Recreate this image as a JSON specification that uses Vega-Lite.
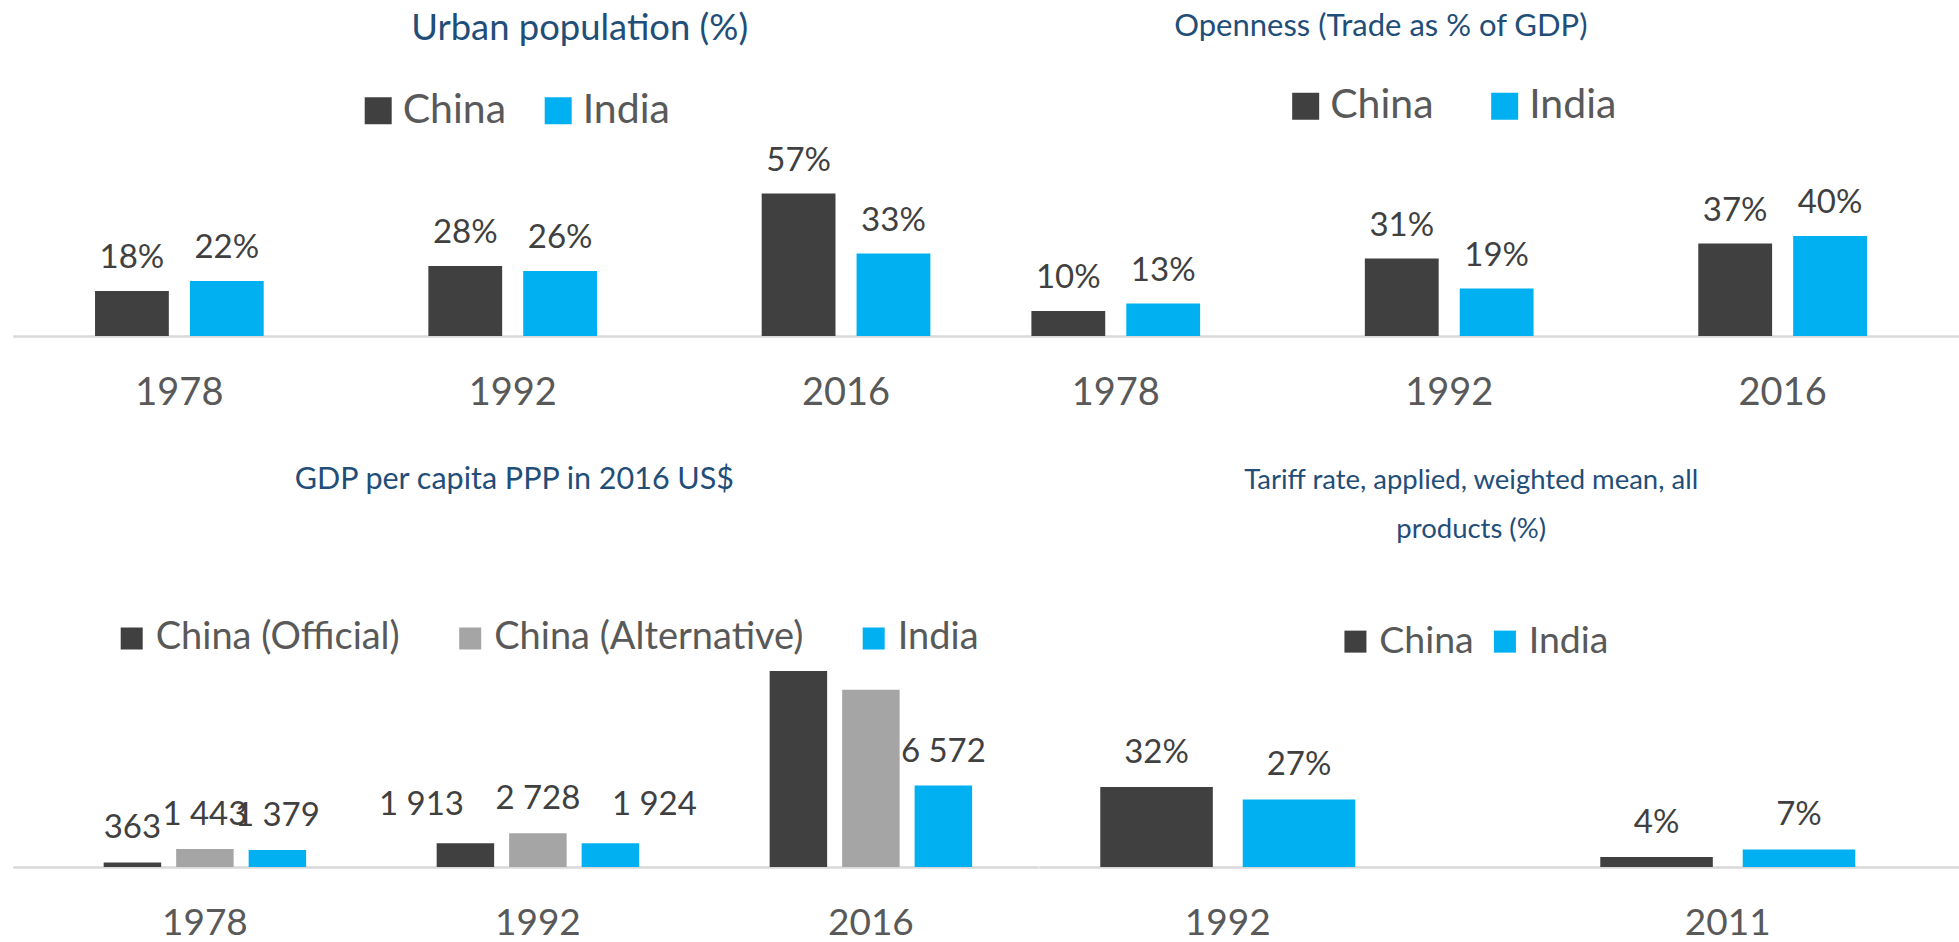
{
  "$schema": "https://vega.github.io/schema/vega-lite/v6.json",
  "background": "white",
  "padding": {"left": 12.7, "top": 10, "right": 0, "bottom": 0},
  "config": {
    "view": {"stroke": null},
    "font": "Lato",
    "locale": {"number": {"decimal": ".", "thousands": " ", "grouping": [3], "currency": ["", "$"]}},
    "title": {"fontWeight": "normal", "color": "#1F4E79", "fontSize": 35, "anchor": "middle", "frame": "group", "font": "Lato"},
    "axis": {"domainColor": "#D9D9D9", "domainWidth": 2.5, "ticks": false, "tickSize": 0, "grid": false, "labelColor": "#595959", "labelBaseline": "middle", "labelPadding": 57, "labelAngle": 0, "title": null, "labelFont": "Lato"},
    "legend": {"orient": "none", "direction": "horizontal", "title": null, "symbolType": "square", "symbolStrokeWidth": 0, "labelColor": "#595959", "padding": 0, "labelLimit": 0, "labelFont": "Lato"},
    "text": {"font": "Lato"}
  },
  "datasets": {
    "urban": [
      {"year": "1978", "country": "China", "value": 0.18},
      {"year": "1978", "country": "India", "value": 0.22},
      {"year": "1992", "country": "China", "value": 0.28},
      {"year": "1992", "country": "India", "value": 0.26},
      {"year": "2016", "country": "China", "value": 0.57},
      {"year": "2016", "country": "India", "value": 0.33}
    ],
    "openness": [
      {"year": "1978", "country": "China", "value": 0.10},
      {"year": "1978", "country": "India", "value": 0.13},
      {"year": "1992", "country": "China", "value": 0.31},
      {"year": "1992", "country": "India", "value": 0.19},
      {"year": "2016", "country": "China", "value": 0.37},
      {"year": "2016", "country": "India", "value": 0.40}
    ],
    "gdp": [
      {"year": "1978", "series": "China (Official)", "value": 363},
      {"year": "1978", "series": "China (Alternative)", "value": 1443},
      {"year": "1978", "series": "India", "value": 1379},
      {"year": "1992", "series": "China (Official)", "value": 1913},
      {"year": "1992", "series": "China (Alternative)", "value": 2728},
      {"year": "1992", "series": "India", "value": 1924},
      {"year": "2016", "series": "China (Official)", "value": 15800},
      {"year": "2016", "series": "China (Alternative)", "value": 14300},
      {"year": "2016", "series": "India", "value": 6572}
    ],
    "tariff": [
      {"year": "1992", "country": "China", "value": 0.32},
      {"year": "1992", "country": "India", "value": 0.27},
      {"year": "2011", "country": "China", "value": 0.04},
      {"year": "2011", "country": "India", "value": 0.07}
    ]
  },
  "bounds": "flush",
  "spacing": 531,
  "resolve": {"scale": {"color": "independent", "xOffset": "independent", "x": "independent", "y": "independent"}, "legend": {"color": "independent"}},
  "vconcat": [
    {
      "bounds": "flush",
      "spacing": 0,
      "resolve": {"scale": {"color": "independent", "xOffset": "independent", "x": "independent", "y": "independent"}, "legend": {"color": "independent"}},
      "hconcat": [
        {
          "width": 1000, "height": 200,
          "data": {"name": "urban"},
          "title": {"text": "Urban population (%)", "offset": 42.5, "dx": 67, "fontSize": 36.4},
          "encoding": {
            "x": {"field": "year", "type": "ordinal", "scale": {"paddingInner": 0.494, "paddingOuter": 0.247}, "axis": {"labelFontSize": 38}},
            "xOffset": {"field": "country", "type": "nominal", "sort": ["China", "India"], "scale": {"paddingInner": 0.222, "paddingOuter": 0}},
            "y": {"field": "value", "type": "quantitative", "scale": {"domain": [0, 0.8], "nice": false}, "axis": null}
          },
          "layer": [
            {"mark": {"type": "bar"},
             "encoding": {"color": {"field": "country", "type": "nominal", "scale": {"domain": ["China", "India"], "range": ["#404040", "#00B0F0"]},
               "legend": {"legendX": 345, "legendY": -46, "labelFontSize": 41, "symbolSize": 729, "labelOffset": 4, "columnPadding": 31}}}},
            {"mark": {"type": "text", "baseline": "middle", "dy": -33, "fontSize": 33, "color": "#404040"},
             "encoding": {"text": {"field": "value", "type": "quantitative", "format": ".0%"}}}
          ]
        },
        {
          "width": 946.3, "height": 200,
          "data": {"name": "openness"},
          "title": {"text": "Openness (Trade as % of GDP)", "offset": 42.7, "dx": -105, "fontSize": 31},
          "encoding": {
            "x": {"field": "year", "type": "ordinal", "scale": {"paddingInner": 0.494, "paddingOuter": 0.166, "align": 0.169}, "axis": {"labelFontSize": 38}},
            "xOffset": {"field": "country", "type": "nominal", "sort": ["China", "India"], "scale": {"paddingInner": 0.222, "paddingOuter": 0}},
            "y": {"field": "value", "type": "quantitative", "scale": {"domain": [0, 0.8], "nice": false}, "axis": null}
          },
          "layer": [
            {"mark": {"type": "bar"},
             "encoding": {"color": {"field": "country", "type": "nominal", "scale": {"domain": ["China", "India"], "range": ["#404040", "#00B0F0"]},
               "legend": {"legendX": 272.5, "legendY": -50.5, "labelFontSize": 41, "symbolSize": 729, "labelOffset": 4, "columnPadding": 50}}}},
            {"mark": {"type": "text", "baseline": "middle", "dy": -33, "fontSize": 33, "color": "#404040"},
             "encoding": {"text": {"field": "value", "type": "quantitative", "format": ".0%"}}}
          ]
        }
      ]
    },
    {
      "bounds": "flush",
      "spacing": 0,
      "resolve": {"scale": {"color": "independent", "xOffset": "independent", "x": "independent", "y": "independent"}, "legend": {"color": "independent"}},
      "hconcat": [
        {
          "width": 1025.3, "height": 200,
          "data": {"name": "gdp"},
          "title": {"text": "GDP per capita PPP in 2016 US$", "offset": 123.5, "dx": -11, "fontSize": 30.5},
          "encoding": {
            "x": {"field": "year", "type": "ordinal", "scale": {"paddingInner": 0.392, "paddingOuter": 0.2355, "align": 0.58}, "axis": {"labelFontSize": 37}},
            "xOffset": {"field": "series", "type": "nominal", "sort": ["China (Official)", "China (Alternative)", "India"], "scale": {"paddingInner": 0.207, "paddingOuter": 0}},
            "y": {"field": "value", "type": "quantitative", "scale": {"domain": [0, 16130], "nice": false}, "axis": null}
          },
          "layer": [
            {"mark": {"type": "bar"},
             "encoding": {"color": {"field": "series", "type": "nominal", "scale": {"domain": ["China (Official)", "China (Alternative)", "India"], "range": ["#404040", "#A5A5A5", "#00B0F0"]},
               "legend": {"legendX": 100, "legendY": -47.5, "labelFontSize": 38, "symbolSize": 484, "labelOffset": 5, "columnPadding": 50.5}}}},
            {"transform": [{"filter": "datum.year == '1978' || (datum.year == '1992' && datum.series == 'China (Alternative)') || (datum.year == '2016' && datum.series == 'India')"}],
             "mark": {"type": "text", "baseline": "middle", "dy": -34, "fontSize": 33, "color": "#404040"},
             "encoding": {"text": {"field": "value", "type": "quantitative", "format": ",.0f"}}},
            {"transform": [{"filter": "datum.year == '1992' && datum.series == 'China (Official)'"}],
             "mark": {"type": "text", "baseline": "middle", "dy": -38, "dx": -44, "fontSize": 33, "color": "#404040"},
             "encoding": {"text": {"field": "value", "type": "quantitative", "format": ",.0f"}}},
            {"transform": [{"filter": "datum.year == '1992' && datum.series == 'India'"}],
             "mark": {"type": "text", "baseline": "middle", "dy": -38, "dx": 44, "fontSize": 33, "color": "#404040"},
             "encoding": {"text": {"field": "value", "type": "quantitative", "format": ",.0f"}}}
          ]
        },
        {
          "width": 921, "height": 200,
          "data": {"name": "tariff"},
          "title": {"text": ["Tariff rate, applied, weighted mean, all", "products (%)"], "lineHeight": 49, "offset": 78.5, "dx": -28, "fontSize": 27.5},
          "encoding": {
            "x": {"field": "year", "type": "ordinal", "scale": {"paddingInner": 0.49, "paddingOuter": 0.166, "align": 0.371}, "axis": {"labelFontSize": 37}},
            "xOffset": {"field": "country", "type": "nominal", "sort": ["China", "India"], "scale": {"paddingInner": 0.21, "paddingOuter": 0}},
            "y": {"field": "value", "type": "quantitative", "scale": {"domain": [0, 0.8], "nice": false}, "axis": null}
          },
          "layer": [
            {"mark": {"type": "bar"},
             "encoding": {"color": {"field": "country", "type": "nominal", "scale": {"domain": ["China", "India"], "range": ["#404040", "#00B0F0"]},
               "legend": {"legendX": 298, "legendY": -44.5, "labelFontSize": 37.5, "symbolSize": 484, "labelOffset": 5, "columnPadding": 11.5}}}},
            {"mark": {"type": "text", "baseline": "middle", "dy": -34, "fontSize": 33, "color": "#404040"},
             "encoding": {"text": {"field": "value", "type": "quantitative", "format": ".0%"}}}
          ]
        }
      ]
    }
  ]
}
